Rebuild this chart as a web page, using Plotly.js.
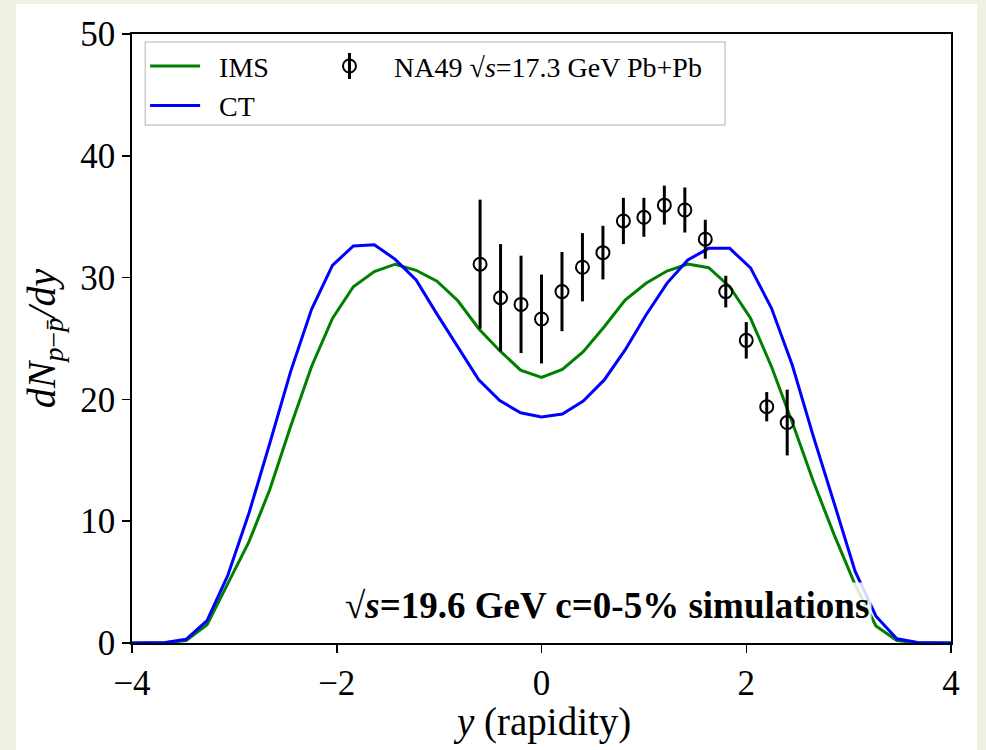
<!DOCTYPE html>
<html>
<head>
<meta charset="utf-8">
<script src="https://cdn.plot.ly/plotly-3.0.1.min.js"></script>
<style>
  html, body { margin: 0; padding: 0; background: #f0f0e4; width: 986px; height: 750px; overflow: hidden; }
  #chart { position: absolute; left: 16px; top: 4px; width: 961px; height: 746px; background: #ffffff; }
</style>
</head>
<body>
<div id="chart"></div>
<script>
// Simulation rapidity grid
const ySim = [-4.083, -3.879, -3.675, -3.471, -3.267, -3.063, -2.858, -2.654, -2.450, -2.246,
              -2.042, -1.838, -1.633, -1.429, -1.225, -1.021, -0.817, -0.613, -0.408, -0.204,
               0.000,  0.204,  0.408,  0.613,  0.817,  1.021,  1.225,  1.429,  1.633,  1.838,
               2.042,  2.246,  2.450,  2.654,  2.858,  3.063,  3.267,  3.471,  3.675,  3.879, 4.083];
// IMS simulation dN/dy
const imsVals = [0, 0, 0.02, 0.2, 1.5, 4.9, 8.3, 12.6, 17.8, 22.7,
                 26.65, 29.25, 30.5, 31.1, 30.6, 29.7, 28.1, 25.8, 24.0, 22.4,
                 21.8, 22.47, 23.92, 25.97, 28.16, 29.53, 30.54, 31.12, 30.81, 29.25,
                 26.66, 22.7, 18.1, 13.3, 8.9, 4.8, 1.4, 0.2, 0.02, 0, 0];
// CT simulation dN/dy
const ctVals = [0, 0, 0.04, 0.3, 1.83, 5.58, 10.65, 16.4, 22.3, 27.4,
                31.0, 32.6, 32.7, 31.5, 29.8, 27.0, 24.3, 21.6, 19.9, 18.9,
                18.56, 18.8, 19.87, 21.6, 24.06, 26.93, 29.53, 31.45, 32.4, 32.4,
                30.8, 27.5, 22.8, 17.0, 11.5, 5.9, 2.2, 0.35, 0.04, 0, 0];
// NA49 data
const na49Y = [-0.6, -0.4, -0.2, 0.0, 0.2, 0.4, 0.6, 0.8, 1.0, 1.2, 1.4, 1.6, 1.8, 2.0, 2.2, 2.4];
const na49Vals = [31.1, 28.35, 27.8, 26.6, 28.85, 30.85, 32.05, 34.65, 34.95, 35.95, 35.55, 33.15, 28.85, 24.85, 19.4, 18.1];
const na49Err = [5.3, 4.4, 4.0, 3.65, 3.25, 2.8, 2.2, 1.9, 1.6, 1.6, 1.85, 1.6, 1.3, 1.5, 1.2, 2.7];

const xTicks = [-4, -2, 0, 2, 4];
const yTicks = [0, 10, 20, 30, 40, 50];

const FONT = '"Liberation Serif", "DejaVu Serif", serif';

const traces = [
  { x: ySim, y: imsVals, type: 'scatter', mode: 'lines', name: '\u2002IMS',
    line: { color: '#008000', width: 3 }, legend: 'legend' },
  { x: ySim, y: ctVals, type: 'scatter', mode: 'lines', name: '\u2002CT',
    line: { color: '#0000ff', width: 3 }, legend: 'legend' },
  { x: na49Y, y: na49Vals, type: 'scatter', mode: 'markers',
    name: '\u2002\u2009NA49 √<i>s</i>=17.3 GeV Pb+Pb',
    marker: { symbol: 'circle-open', size: 13, color: '#000', line: { width: 2, color: '#000' } },
    error_y: { type: 'data', array: na49Err, visible: true, color: '#000', thickness: 3, width: 0 },
    legend: 'legend2' }
];

const layout = {
  width: 961, height: 746,
  margin: { l: 116, r: 26, t: 30, b: 107, autoexpand: false },
  paper_bgcolor: '#ffffff', plot_bgcolor: '#ffffff',
  font: { family: FONT, color: '#000', size: 34 },
  showlegend: true,
  xaxis: {
    range: [-4, 4], tickvals: xTicks, ticks: 'outside', ticklen: 8, tickwidth: 1.5, tickcolor: '#000',
    showline: true, linecolor: '#000', linewidth: 1.8, mirror: true, showgrid: false, zeroline: false,
    tickfont: { family: FONT, size: 35, color: '#000' }
  },
  yaxis: {
    range: [0, 50], tickvals: yTicks, ticks: 'outside', ticklen: 8, tickwidth: 1.5, tickcolor: '#000',
    showline: true, linecolor: '#000', linewidth: 1.8, mirror: true, showgrid: false, zeroline: false,
    tickfont: { family: FONT, size: 35, color: '#000' }, automargin: true,
    title: { text: '<i>dN</i><sub><i>p</i>−<i>p̄</i></sub><i>/dy</i>', font: { family: FONT, size: 40, color: '#000' }, standoff: 12 }
  },
  legend: {
    x: 0.016, y: 0.988, xanchor: 'left', yanchor: 'top', orientation: 'v',
    bgcolor: 'rgba(0,0,0,0)', borderwidth: 0, itemwidth: 50,
    font: { family: FONT, size: 28, color: '#000' }
  },
  legend2: {
    x: 0.235, y: 0.988, xanchor: 'left', yanchor: 'top', orientation: 'v',
    bgcolor: 'rgba(0,0,0,0)', borderwidth: 0, itemwidth: 40,
    font: { family: FONT, size: 28, color: '#000' }
  },
  shapes: [{
    type: 'rect', xref: 'paper', yref: 'paper',
    x0: 0.0162, x1: 0.7241, y0: 0.8506, y1: 0.9869,
    line: { color: '#cccccc', width: 1.5 }, fillcolor: 'rgba(255,255,255,0.8)', layer: 'below'
  }],
  annotations: [{
    xref: 'paper', yref: 'paper', x: 0.58, y: 0.061, xanchor: 'center', yanchor: 'middle',
    text: '<b>√<i>s</i>=19.6 GeV c=0-5% simulations</b>', showarrow: false,
    font: { family: FONT, size: 37, color: '#000' },
    bgcolor: 'rgba(255,255,255,0.85)', borderpad: 2
  }, {
    // x-axis title
    xref: 'paper', yref: 'paper', x: 0.5, y: -0.129, xanchor: 'center', yanchor: 'middle',
    text: '<i>y</i> (rapidity)', showarrow: false, borderpad: 0,
    font: { family: FONT, size: 39, color: '#000' }
  }]
};

Plotly.newPlot('chart', traces, layout, { displayModeBar: false, staticPlot: true }).then(function (gd) {
  // vertical error-bar stroke through the NA49 legend marker, as in the reference
  const pt = gd.querySelector('.legend2 .traces .legendpoints path.scatterpts');
  if (pt) {
    const ns = 'http://www.w3.org/2000/svg';
    const bar = document.createElementNS(ns, 'path');
    bar.setAttribute('d', 'M0,-13V13');
    bar.setAttribute('style', 'stroke:#000;stroke-width:3px;fill:none');
    const tr = pt.getAttribute('transform');
    if (tr) bar.setAttribute('transform', tr);
    pt.parentNode.insertBefore(bar, pt);
  }
});
</script>
</body>
</html>
